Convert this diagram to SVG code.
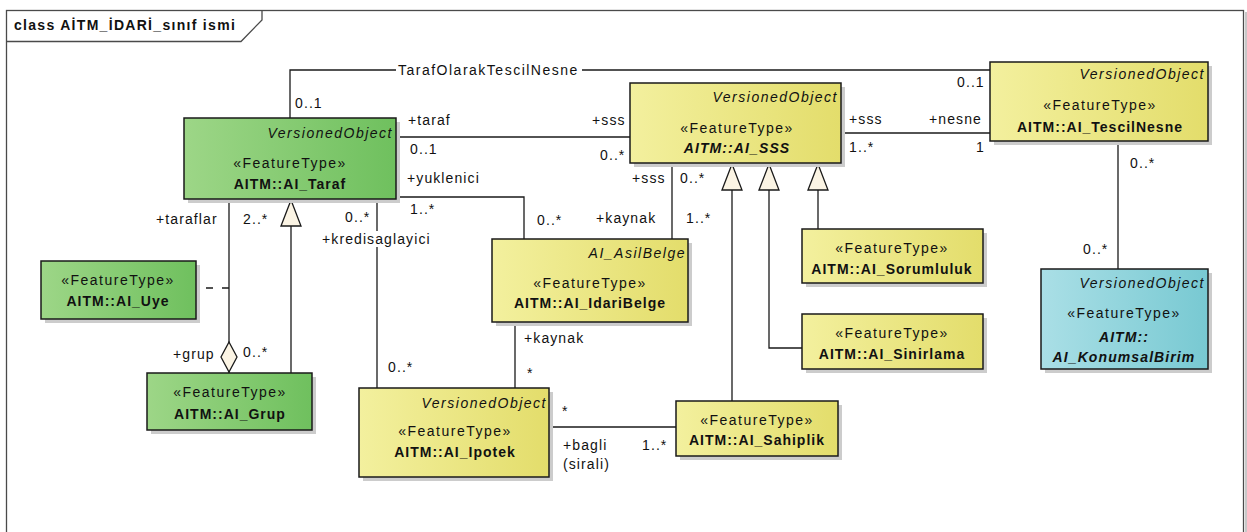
<svg xmlns="http://www.w3.org/2000/svg" width="1247" height="532" viewBox="0 0 1247 532">
  <defs>
    <linearGradient id="gGreen" x1="0" y1="0" x2="1" y2="0">
      <stop offset="0" stop-color="#9dd687"/>
      <stop offset="1" stop-color="#6fc05e"/>
    </linearGradient>
    <linearGradient id="gYellow" x1="0" y1="0" x2="1" y2="0">
      <stop offset="0" stop-color="#f3f09e"/>
      <stop offset="1" stop-color="#e3dd6b"/>
    </linearGradient>
    <linearGradient id="gCyan" x1="0" y1="0" x2="1" y2="0">
      <stop offset="0" stop-color="#aadfe6"/>
      <stop offset="1" stop-color="#78c9d2"/>
    </linearGradient>
    <!-- hollow triangle for generalization -->
    <marker id="gen" viewBox="0 0 28 22" refX="28" refY="11" markerWidth="28" markerHeight="22" markerUnits="userSpaceOnUse" orient="auto">
      <path d="M1,1 L27,11 L1,21 Z" fill="#fbf4e4" stroke="#1a1a1a" stroke-width="1.3"/>
    </marker>
    <!-- hollow diamond for aggregation -->
    <marker id="agg" viewBox="0 0 32 18" refX="32" refY="9" markerWidth="32" markerHeight="18" markerUnits="userSpaceOnUse" orient="auto">
      <path d="M1,9 L16,1 L31,9 L16,17 Z" fill="#fbf4e4" stroke="#1a1a1a" stroke-width="1.3"/>
    </marker>
  </defs>
  <style>
    text { font-family: "Liberation Sans", Arial, sans-serif; font-size: 14px; fill: #111; }
    .lbl { letter-spacing: 1.1px; }
    .wide { letter-spacing: 1.5px; }
    .st { letter-spacing: 1.5px; text-anchor: middle; }
    .nm { font-weight: bold; letter-spacing: 1px; text-anchor: middle; }
    .nmi { font-weight: bold; font-style: italic; letter-spacing: 1.1px; text-anchor: middle; }
    .par { font-style: italic; letter-spacing: 1.5px; text-anchor: end; }
    .title { font-weight: bold; letter-spacing: 1.3px; }
    .box { stroke: #1a1a1a; stroke-width: 1.5; }
    .shadow { fill: #cccccc; }
    .edge { fill: none; stroke: #1a1a1a; stroke-width: 1.3; }
  </style>

  <rect x="0" y="0" width="1247" height="532" fill="#ffffff"/>

  <!-- diagram frame -->
  <g id="frame">
    <line x1="1246" y1="12" x2="1246" y2="532" stroke="#c8c8c8" stroke-width="2"/>
    <rect x="6.5" y="10.5" width="1237" height="540" fill="none" stroke="#4a4a4a" stroke-width="1.3"/>
    <path d="M6.5,41.5 H241 L262,20 V10.5" fill="none" stroke="#4a4a4a" stroke-width="1.3"/>
    <text class="title" x="14" y="30">class AİTM_İDARİ_sınıf ismi</text>
  </g>

  <!-- connectors -->
  <g id="connectors">
    <!-- TarafOlarakTescilNesne -->
    <path class="edge" d="M290,118 V70 H396 M582,70 H990"/>
    <text class="lbl wide" x="398" y="75">TarafOlarakTescilNesne</text>
    <text class="lbl" x="295" y="108">0..1</text>
    <text class="lbl" x="957" y="87">0..1</text>

    <!-- Taraf - SSS -->
    <path class="edge" d="M396,137 H630"/>
    <text class="lbl" x="408" y="125">+taraf</text>
    <text class="lbl" x="410" y="154">0..1</text>
    <text class="lbl" x="592" y="125">+sss</text>
    <text class="lbl" x="600" y="160">0..*</text>

    <!-- Taraf yuklenici - IdariBelge -->
    <path class="edge" d="M396,197 H524 V239"/>
    <text class="lbl" x="407" y="183">+yuklenici</text>
    <text class="lbl" x="410" y="214">1..*</text>
    <text class="lbl" x="537" y="225">0..*</text>

    <!-- SSS - IdariBelge -->
    <path class="edge" d="M672,163 V239"/>
    <text class="lbl" x="632" y="183">+sss</text>
    <text class="lbl" x="680" y="183">0..*</text>
    <text class="lbl" x="596" y="223">+kaynak</text>
    <text class="lbl" x="686" y="223">1..*</text>

    <!-- generalizations into SSS -->
    <path class="edge" d="M732,401 V163" marker-end="url(#gen)"/>
    <path class="edge" d="M802,348 H769 V163" marker-end="url(#gen)"/>
    <path class="edge" d="M818,229 V163" marker-end="url(#gen)"/>

    <!-- SSS - TescilNesne -->
    <path class="edge" d="M841,133 H990"/>
    <text class="lbl" x="849" y="124">+sss</text>
    <text class="lbl" x="849" y="152">1..*</text>
    <text class="lbl" x="929" y="124">+nesne</text>
    <text class="lbl" x="976" y="152">1</text>

    <!-- TescilNesne - KonumsalBirim -->
    <path class="edge" d="M1118,141 V269"/>
    <text class="lbl" x="1130" y="168">0..*</text>
    <text class="lbl" x="1083" y="254">0..*</text>

    <!-- kredisaglayici: Taraf - Ipotek -->
    <path class="edge" d="M377,199 V388"/>
    <rect x="321" y="231" width="114" height="16" fill="#ffffff"/>
    <text class="lbl" x="322" y="244">+kredisaglayici</text>
    <text class="lbl" x="345" y="222">0..*</text>
    <text class="lbl" x="388" y="372">0..*</text>

    <!-- IdariBelge - Ipotek -->
    <path class="edge" d="M515,322 V388"/>
    <text class="lbl" x="524" y="343">+kaynak</text>
    <text class="lbl" x="527" y="378">*</text>

    <!-- Ipotek - Sahiplik -->
    <path class="edge" d="M549,427 H676"/>
    <text class="lbl" x="562" y="416">*</text>
    <text class="lbl" x="563" y="450">+bagli</text>
    <text class="lbl" x="563" y="469">(sirali)</text>
    <text class="lbl" x="642" y="450">1..*</text>

    <!-- Taraf - Grup aggregation -->
    <path class="edge" d="M229,199 V373" marker-end="url(#agg)"/>
    <text class="lbl" x="156" y="224">+taraflar</text>
    <text class="lbl" x="243" y="224">2..*</text>
    <text class="lbl" x="173" y="359">+grup</text>
    <text class="lbl" x="243" y="357">0..*</text>

    <!-- association class link to Uye -->
    <path class="edge" d="M229,288 H206" stroke-dasharray="7,9"/>

    <!-- Grup generalization into Taraf -->
    <path class="edge" d="M291,373 V199" marker-end="url(#gen)"/>
  </g>

  <!-- AI_Taraf -->
  <g id="AI_Taraf">
    <rect class="shadow" x="188" y="122" width="212" height="81"/>
    <rect class="box" x="184" y="118" width="212" height="81" fill="url(#gGreen)"/>
    <text class="par" x="393" y="138">VersionedObject</text>
    <text class="st" x="290" y="168">«FeatureType»</text>
    <text class="nm" x="290" y="189">AITM::AI_Taraf</text>
  </g>

  <!-- AI_SSS -->
  <g id="AI_SSS">
    <rect class="shadow" x="634" y="87" width="211" height="80"/>
    <rect class="box" x="630" y="83" width="211" height="80" fill="url(#gYellow)"/>
    <text class="par" x="838" y="102">VersionedObject</text>
    <text class="st" x="737" y="133">«FeatureType»</text>
    <text class="nmi" x="737" y="153">AITM::AI_SSS</text>
  </g>

  <!-- AI_TescilNesne -->
  <g id="AI_TescilNesne">
    <rect class="shadow" x="994" y="66" width="218" height="79"/>
    <rect class="box" x="990" y="62" width="218" height="79" fill="url(#gYellow)"/>
    <text class="par" x="1205" y="79">VersionedObject</text>
    <text class="st" x="1100" y="110">«FeatureType»</text>
    <text class="nm" x="1100" y="132">AITM::AI_TescilNesne</text>
  </g>

  <!-- AI_KonumsalBirim -->
  <g id="AI_KonumsalBirim">
    <rect class="shadow" x="1045" y="273" width="167" height="100"/>
    <rect class="box" x="1041" y="269" width="167" height="100" fill="url(#gCyan)"/>
    <text class="par" x="1205" y="288">VersionedObject</text>
    <text class="st" x="1124" y="318">«FeatureType»</text>
    <text class="nmi" x="1124" y="342">AITM::</text>
    <text class="nmi" x="1124" y="362">AI_KonumsalBirim</text>
  </g>

  <!-- AI_Uye -->
  <g id="AI_Uye">
    <rect class="shadow" x="45" y="265" width="155" height="58"/>
    <rect class="box" x="41" y="261" width="155" height="58" fill="url(#gGreen)"/>
    <text class="st" x="118" y="285">«FeatureType»</text>
    <text class="nm" x="118" y="306">AITM::AI_Uye</text>
  </g>

  <!-- AI_Grup -->
  <g id="AI_Grup">
    <rect class="shadow" x="151" y="377" width="165" height="57"/>
    <rect class="box" x="147" y="373" width="165" height="57" fill="url(#gGreen)"/>
    <text class="st" x="230" y="397">«FeatureType»</text>
    <text class="nm" x="230" y="419">AITM::AI_Grup</text>
  </g>

  <!-- AI_IdariBelge -->
  <g id="AI_IdariBelge">
    <rect class="shadow" x="496" y="243" width="196" height="83"/>
    <rect class="box" x="492" y="239" width="196" height="83" fill="url(#gYellow)"/>
    <text class="par" x="686" y="258">AI_AsilBelge</text>
    <text class="st" x="590" y="288">«FeatureType»</text>
    <text class="nm" x="590" y="308">AITM::AI_IdariBelge</text>
  </g>

  <!-- AI_Ipotek -->
  <g id="AI_Ipotek">
    <rect class="shadow" x="363" y="392" width="190" height="89"/>
    <rect class="box" x="359" y="388" width="190" height="89" fill="url(#gYellow)"/>
    <text class="par" x="547" y="408">VersionedObject</text>
    <text class="st" x="455" y="436">«FeatureType»</text>
    <text class="nm" x="455" y="457">AITM::AI_Ipotek</text>
  </g>

  <!-- AI_Sahiplik -->
  <g id="AI_Sahiplik">
    <rect class="shadow" x="680" y="405" width="162" height="55"/>
    <rect class="box" x="676" y="401" width="162" height="55" fill="url(#gYellow)"/>
    <text class="st" x="757" y="425">«FeatureType»</text>
    <text class="nm" x="757" y="445">AITM::AI_Sahiplik</text>
  </g>

  <!-- AI_Sorumluluk -->
  <g id="AI_Sorumluluk">
    <rect class="shadow" x="806" y="233" width="181" height="54"/>
    <rect class="box" x="802" y="229" width="181" height="54" fill="url(#gYellow)"/>
    <text class="st" x="892" y="253">«FeatureType»</text>
    <text class="nm" x="892" y="274">AITM::AI_Sorumluluk</text>
  </g>

  <!-- AI_Sinirlama -->
  <g id="AI_Sinirlama">
    <rect class="shadow" x="806" y="318" width="181" height="55"/>
    <rect class="box" x="802" y="314" width="181" height="55" fill="url(#gYellow)"/>
    <text class="st" x="892" y="338">«FeatureType»</text>
    <text class="nm" x="892" y="359">AITM::AI_Sinirlama</text>
  </g>
</svg>
